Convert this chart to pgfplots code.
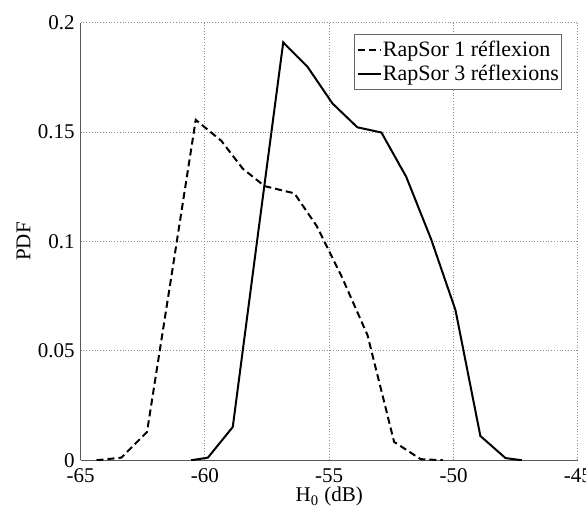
\documentclass[border=0pt]{standalone}
\usepackage{pgfplots}
\pgfplotsset{compat=1.18}
\usepackage{fontspec}
\setmainfont{Liberation Serif}
\begin{document}
\begin{tikzpicture}
\begin{axis}[
  name=a,
  scale only axis,
  width=248.5pt, height=218.7pt,
  xmin=-65, xmax=-45, ymin=0, ymax=0.2,
  xtick={-65,-60,-55,-50,-45},
  xticklabels={-65,-60,-55,-50,-45},
  ytick={0,0.05,0.1,0.15,0.2},
  yticklabels={0,0.05,0.1,0.15,0.2},
  axis x line*=bottom, axis y line*=left,
  axis line style={draw=black!65, line width=0.6pt, -},
  major tick length=0pt,
  grid=major,
  major grid style={densely dotted, black!45, line width=0.5pt},
  tick label style={font=\fontsize{10.5}{12}\selectfont},
  xticklabel style={yshift=-0.5pt},
  yticklabel style={xshift=0.5pt},
  xlabel={H\textsubscript{0} (dB)},
  ylabel={PDF},
  label style={font=\fontsize{10.5}{12}\selectfont},
  x label style={at={(axis description cs:0.5,-0.0953)},anchor=base},
  y label style={at={(axis description cs:-0.1147,0.5)},anchor=center},
  legend cell align=left,
  legend style={at={(0.969,0.974)}, anchor=north east, draw=black!60, line width=0.5pt,
    font=\fontsize{11}{13.5}\selectfont, inner xsep=1pt, inner ysep=2.5pt,
    nodes={inner sep=0.5pt}, row sep=1.8pt},
  legend image code/.code={\draw[#1] (0pt,0pt) -- (11.5pt,0pt);},
]
\addplot[black, line width=1pt, dash pattern=on 3.5pt off 2pt] coordinates {
(-64.36,0) (-63.36,0.0012) (-62.33,0.0129) (-61.35,0.084) (-60.37,0.1556)
(-59.34,0.146) (-58.48,0.1333) (-57.6,0.1253) (-56.4,0.122) (-55.5,0.107)
(-54.5,0.084) (-53.46,0.0572) (-52.39,0.0084) (-51.32,0.0005) (-50.43,0)
};
\addlegendentry{RapSor 1 réflexion}
\addplot[black, line width=1pt] coordinates {
(-60.55,0) (-59.88,0.0012) (-58.88,0.0152) (-57.87,0.103) (-56.85,0.191)
(-55.87,0.1798) (-54.87,0.1631) (-53.87,0.1522) (-52.90,0.1498) (-51.90,0.1295)
(-50.9,0.101) (-49.92,0.0686) (-48.92,0.0111) (-47.91,0.001) (-47.25,0)
};
\addlegendentry{RapSor 3 réflexions}
\end{axis}
\pgfresetboundingbox
\path ([shift={(-40.3pt,-26pt)}]a.south west) rectangle ([shift={(4.1pt,11.35pt)}]a.north east);
\end{tikzpicture}
\end{document}
